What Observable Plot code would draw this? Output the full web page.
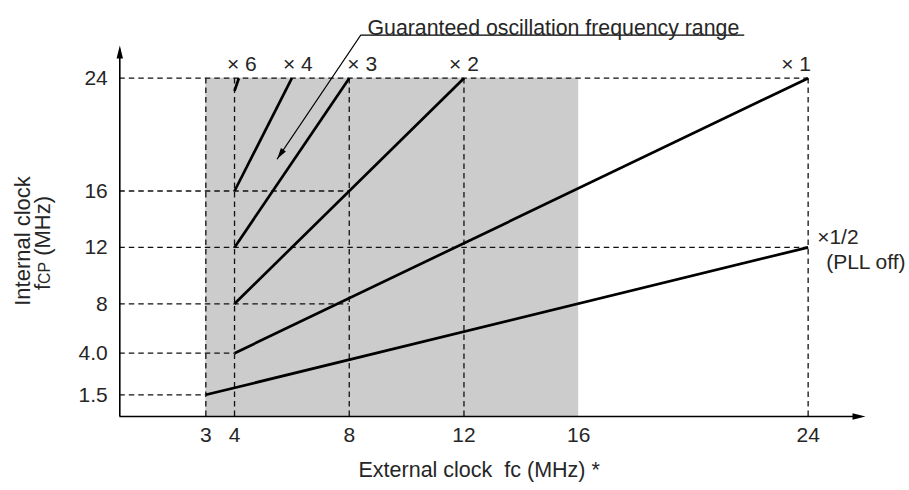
<!DOCTYPE html>
<html><head><meta charset="utf-8">
<script src="https://cdn.jsdelivr.net/npm/d3@7"></script>
<script src="https://cdn.jsdelivr.net/npm/@observablehq/plot@0.6"></script>
<style>body{margin:0;background:#fff} svg{display:block}</style>
</head><body><div id="chart"></div>
<script>
// ---- data ----
const ratioLabels = ["× 6", "× 4", "× 3", "× 2", "× 1", "×1/2"];
const startFc  = [4, 4, 4, 4, 4, 3];
const startFcp = [23.1, 16, 12, 8, 4, 1.5];
const endFc    = [4.15, 6, 8, 12, 24, 24];
const endFcp   = [24, 24, 24, 24, 24, 12];
const xTicks = [3, 4, 8, 12, 16, 24];
const yTicks = [1.5, 4, 8, 12, 16, 24];
const yTickLabels = ["1.5", "4.0", "8", "12", "16", "24"];
const rangeFc = [3, 16];          // guaranteed oscillation frequency range (external clock)
const rangeFcpMax = 24;
const hGuideFcp  = [1.5, 4, 8, 12, 16, 24];
const hGuideToFc = [3, 4, 8, 24, 8, 24];
const vGuideFc    = [3, 4, 8, 12, 24];
const vGuideToFcp = [24, 24, 24, 24, 24];

// ---- layout / styles ----
const xMax = 26, yTop = 26.3;
const yDomain = [0, 1.5, 4, 8, 24, yTop];
const yRange  = [416, 394.3, 352.7, 303.3, 77.7, 45];
const xScale = d3.scaleLinear([0, xMax], [119.3, 865]);
const yScale = d3.scaleLinear(yDomain, yRange);
const annotationPath = [[21.76, 27.03], [8.40, 27.03], [5.49, 18.28]];
const labelDx = [3, 6, 13, 0, -12, 0];
const ink = "#111", textInk = "#262626";
const dash = "5.5,4";

const lines = ratioLabels.map((r, i) => ({r, x1: startFc[i], y1: startFcp[i], x2: endFc[i], y2: endFcp[i]}));

function arrowHead(angle, len, half) {
  return {draw(ctx) {
    const ux = Math.cos(angle), uy = Math.sin(angle);
    const bx = -ux * len, by = -uy * len, px = -uy * half, py = ux * half;
    ctx.moveTo(0, 0); ctx.lineTo(bx + px, by + py); ctx.lineTo(bx - px, by - py); ctx.closePath();
  }};
}
const pA = annotationPath[1], pB = annotationPath[2];
const annAngle = Math.atan2(yScale(pB[1]) - yScale(pA[1]), xScale(pB[0]) - xScale(pA[0]));

const marks = [
  Plot.rect([0], {x1: rangeFc[0], x2: rangeFc[1], y1: 0, y2: rangeFcpMax, fill: "#cccccc"}),
  Plot.ruleY(hGuideFcp, {y: d => d, x1: 0, x2: (d, i) => hGuideToFc[i], stroke: ink, strokeWidth: 1.3, strokeDasharray: dash}),
  Plot.ruleX(vGuideFc, {x: d => d, y1: 0, y2: (d, i) => vGuideToFcp[i], stroke: ink, strokeWidth: 1.3, strokeDasharray: dash}),
  Plot.link(lines, {x1: "x1", y1: "y1", x2: "x2", y2: "y2", stroke: "#000", strokeWidth: 2.7}),
  // axes lines + arrows
  Plot.ruleX([0], {y1: 0, y2: yTop - 0.3, stroke: "#000", strokeWidth: 1.6}),
  Plot.ruleY([0], {x1: 0, x2: xMax - 0.2, stroke: "#000", strokeWidth: 1.6}),
  Plot.dot([0], {x: 0, y: yTop, symbol: arrowHead(-Math.PI / 2, 13, 3.2), fill: "#000", stroke: "none"}),
  Plot.dot([0], {x: xMax, y: 0, symbol: arrowHead(0, 13, 3.2), fill: "#000", stroke: "none"}),
  // annotation leader
  Plot.line(annotationPath, {x: d => d[0], y: d => d[1], stroke: "#000", strokeWidth: 1.1}),
  Plot.dot([pB], {x: d => d[0], y: d => d[1], symbol: arrowHead(annAngle, 11, 3), fill: "#000", stroke: "none"}),
  Plot.text(["Guaranteed oscillation frequency range"], {frameAnchor: "top-left", textAnchor: "start", dx: 247.7, dy: -25.4, fontSize: 21.3, fill: textInk}),
  // axes ticks
  Plot.axisX({ticks: xTicks, tickSize: 0, tickPadding: 11, label: null, fontSize: 21, fill: textInk}),
  Plot.axisY({ticks: yTicks, tickSize: 0, tickPadding: 12, label: null, fontSize: 21, fill: textInk,
              tickFormat: d => yTickLabels[yTicks.indexOf(d)]}),
  // axis titles
  Plot.text(["External clock  fc (MHz) *"], {frameAnchor: "bottom-left", textAnchor: "start", dx: 238.7, dy: 60, fontSize: 21.5, fill: textInk}),
  Plot.text(["Internal clock"], {frameAnchor: "left", textAnchor: "middle", rotate: -90, dx: -97, dy: 10, fontSize: 22, fill: textInk}),
  Plot.text(["fCP (MHz)"], {frameAnchor: "left", textAnchor: "middle", rotate: -90, dx: -77, dy: 12, fontSize: 22, fill: textInk}),
  // ratio labels
  ...lines.slice(0, 5).map((d, i) => Plot.text([d], {x: "x2", y: "y2", text: "r", dx: labelDx[i], dy: -14, fontSize: 21, fill: textInk})),
  Plot.text([lines[5]], {x: "x2", y: "y2", text: "r", textAnchor: "start", dx: 9, dy: -10, fontSize: 21, fill: textInk}),
  Plot.text([lines[5]], {x: "x2", y: "y2", text: () => "(PLL off)", textAnchor: "start", dx: 18, dy: 15, fontSize: 21, fill: textInk})
];

const chart = Plot.plot({
  width: 909, height: 490,
  marginLeft: 119.3, marginRight: 44, marginTop: 45, marginBottom: 74,
  x: {domain: [0, xMax]},
  y: {type: "linear", domain: yDomain, range: yRange},
  style: {fontFamily: "'Liberation Sans', Arial, sans-serif", fontSize: "21px", color: textInk, background: "#fff"},
  marks
});

// small-size "CP" in fCP
chart.querySelectorAll("text").forEach(t => {
  if (t.textContent === "fCP (MHz)") {
    t.textContent = "f";
    const ts = document.createElementNS("http://www.w3.org/2000/svg", "tspan");
    ts.setAttribute("font-size", "0.72em");
    ts.textContent = "CP";
    t.appendChild(ts);
    t.appendChild(document.createTextNode(" (MHz)"));
  }
});
document.getElementById("chart").appendChild(chart);
</script>
</body></html>
